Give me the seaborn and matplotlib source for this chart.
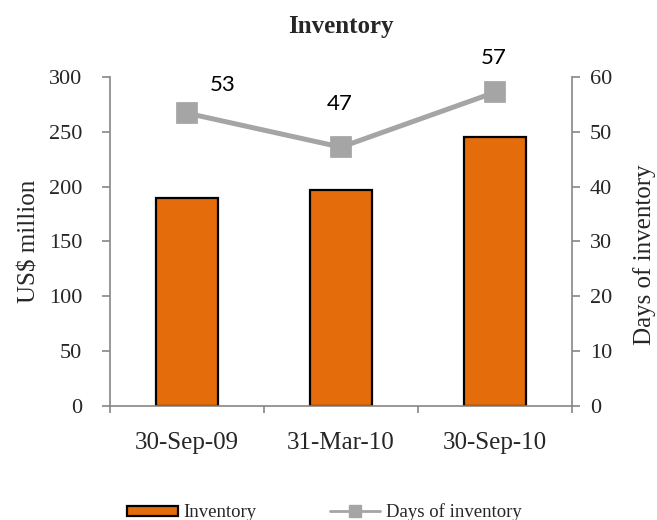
import matplotlib
matplotlib.use("Agg")
import matplotlib.pyplot as plt
import seaborn as sns
from matplotlib.patches import Patch
from matplotlib.lines import Line2D

# Period-end dates and the two series
dates = ["30-Sep-09", "31-Mar-10", "30-Sep-10"]
inventory = [190, 197, 245]          # US$ million
days_of_inventory = [53.4, 47.2, 57.2]  # days

BAR_COLOR = "#E46C0A"
LINE_COLOR = "#A5A5A5"
AXIS_COLOR = "#868686"
SERIF = "Liberation Serif"

sns.set_theme(style="white")
plt.rcParams["font.family"] = [SERIF, "DejaVu Serif"]

fig = plt.figure(figsize=(6.57, 5.2), dpi=100)
ax = fig.add_axes([0.1674, 0.2192, 0.7032, 0.6328])

sns.barplot(x=dates, y=inventory, ax=ax, width=0.4, color=BAR_COLOR,
            edgecolor="black", linewidth=1.6, saturation=1)

ax2 = ax.twinx()
sns.pointplot(x=dates, y=days_of_inventory, ax=ax2, color=LINE_COLOR,
              marker="s", markersize=13, linewidth=3.6, errorbar=None)

for a in (ax, ax2):
    a.set_xlim(-0.5, len(dates) - 0.5)
    for s in a.spines.values():
        s.set_visible(False)

ax.set_ylim(0, 300)
ax.set_yticks(range(0, 301, 50))
ax2.set_ylim(0, 60)
ax2.set_yticks(range(0, 61, 10))

ax.spines["left"].set_visible(True)
ax.spines["bottom"].set_visible(True)
ax2.spines["right"].set_visible(True)
for s in (ax.spines["left"], ax.spines["bottom"], ax2.spines["right"]):
    s.set_color(AXIS_COLOR)
    s.set_linewidth(1.2)

# Category separators on the x axis
ax.set_xticks([i - 0.5 for i in range(len(dates) + 1)], minor=True)
ax.tick_params(axis="x", which="minor", direction="out", length=5,
               width=1.2, color=AXIS_COLOR, bottom=True)
ax.tick_params(axis="x", which="major", length=0, pad=19, labelsize=18)
ax.tick_params(axis="y", direction="out", length=6, width=1.2,
               color=AXIS_COLOR, pad=14, labelsize=16, left=True)
ax2.tick_params(axis="y", direction="out", length=6, width=1.2,
                color=AXIS_COLOR, pad=7, labelsize=16, right=True)
ax2.set_xlabel("")
ax.grid(False)
ax2.grid(False)

ax.set_ylabel("US$ million", fontsize=18, labelpad=6)
ax2.set_ylabel("Days of inventory", fontsize=18)
ax2.yaxis.set_label_coords(1.132, 0.46)
ax2.yaxis.label.set_horizontalalignment("center")
ax.set_title("Inventory", fontsize=18, fontweight="bold", pad=32)

# Value labels for days of inventory
label_offsets = [(26, 20), (-1, 31), (-1, 25)]
for i, (val, off) in enumerate(zip(days_of_inventory, label_offsets)):
    ax2.annotate(f"{val:.0f}", xy=(i, val), xytext=off,
                 textcoords="offset points", ha="center", va="center",
                 fontsize=16, family=["Lato", "DejaVu Sans"], color="black")

handles = [
    Patch(facecolor=BAR_COLOR, edgecolor="black", linewidth=1.6, label="Inventory"),
    Line2D([0], [0], color=LINE_COLOR, linewidth=2, marker="s",
           markersize=8, label="Days of inventory"),
]
fig.legend(handles=handles, loc="lower center", bbox_to_anchor=(0.494, -0.035),
           ncol=2, frameon=False, fontsize=13.5, handlelength=2.7,
           handleheight=0.45, handletextpad=0.3, columnspacing=3.9)

fig.savefig("out.png", dpi=100)
